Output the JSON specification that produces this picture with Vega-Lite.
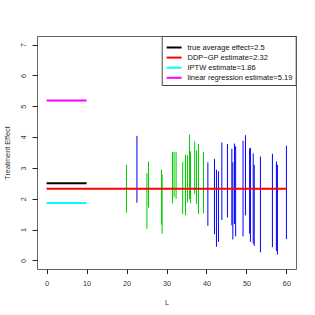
{
  "$schema": "https://vega.github.io/schema/vega-lite/v6.json",
  "width": 259,
  "height": 233,
  "autosize": {"type": "none"},
  "padding": {"left": 37, "top": 36, "right": 19, "bottom": 46},
  "background": "white",
  "config": {
    "view": {"stroke": "#666", "strokeWidth": 1},
    "font": "Liberation Sans",
    "axis": {"ticks": true, "tickWidth": 1, "tickOpacity": 1, "labelOverlap": false, "grid": false, "domain": false}
  },
  "datasets": {
    "segs": [
      {"L": 20.0, "lo": 1.55, "hi": 3.10, "grp": "g"},
      {"L": 25.1, "lo": 1.02, "hi": 2.83, "grp": "g"},
      {"L": 25.5, "lo": 1.71, "hi": 3.21, "grp": "g"},
      {"L": 28.75, "lo": 1.16, "hi": 2.94, "grp": "g"},
      {"L": 28.9, "lo": 0.86, "hi": 2.78, "grp": "g"},
      {"L": 31.5, "lo": 1.85, "hi": 3.52, "grp": "g"},
      {"L": 31.9, "lo": 2.05, "hi": 3.52, "grp": "g"},
      {"L": 32.4, "lo": 1.99, "hi": 3.52, "grp": "g"},
      {"L": 34.05, "lo": 1.50, "hi": 3.19, "grp": "g"},
      {"L": 34.75, "lo": 1.47, "hi": 3.43, "grp": "g"},
      {"L": 35.25, "lo": 1.88, "hi": 3.40, "grp": "g"},
      {"L": 35.75, "lo": 1.99, "hi": 4.08, "grp": "g"},
      {"L": 36.0, "lo": 1.85, "hi": 3.54, "grp": "g"},
      {"L": 37.05, "lo": 2.16, "hi": 3.86, "grp": "g"},
      {"L": 37.5, "lo": 1.83, "hi": 3.56, "grp": "g"},
      {"L": 38.0, "lo": 1.50, "hi": 3.78, "grp": "g"},
      {"L": 39.25, "lo": 1.53, "hi": 3.52, "grp": "g"},
      {"L": 22.6, "lo": 1.87, "hi": 4.04, "grp": "b"},
      {"L": 40.35, "lo": 1.12, "hi": 3.18, "grp": "b"},
      {"L": 42.0, "lo": 0.85, "hi": 3.29, "grp": "b"},
      {"L": 42.5, "lo": 0.44, "hi": 2.94, "grp": "b"},
      {"L": 43.0, "lo": 0.60, "hi": 2.89, "grp": "b"},
      {"L": 43.85, "lo": 1.31, "hi": 3.83, "grp": "b"},
      {"L": 45.25, "lo": 1.39, "hi": 3.78, "grp": "b"},
      {"L": 46.35, "lo": 1.14, "hi": 3.62, "grp": "b"},
      {"L": 46.6, "lo": 0.68, "hi": 3.18, "grp": "b"},
      {"L": 47.0, "lo": 1.18, "hi": 3.79, "grp": "b"},
      {"L": 47.3, "lo": 0.78, "hi": 3.70, "grp": "b"},
      {"L": 49.15, "lo": 0.78, "hi": 3.88, "grp": "b"},
      {"L": 49.75, "lo": 1.46, "hi": 4.06, "grp": "b"},
      {"L": 50.8, "lo": 0.87, "hi": 3.63, "grp": "b"},
      {"L": 51.0, "lo": 0.60, "hi": 3.65, "grp": "b"},
      {"L": 51.7, "lo": 0.54, "hi": 3.47, "grp": "b"},
      {"L": 51.95, "lo": 0.47, "hi": 3.10, "grp": "b"},
      {"L": 53.5, "lo": 0.26, "hi": 3.37, "grp": "b"},
      {"L": 56.5, "lo": 0.43, "hi": 3.46, "grp": "b"},
      {"L": 57.5, "lo": 0.31, "hi": 3.21, "grp": "b"},
      {"L": 57.75, "lo": 0.19, "hi": 3.10, "grp": "b"},
      {"L": 60.0, "lo": 0.69, "hi": 3.72, "grp": "b"}
    ],
    "est": [
      {"series": "true average effect=2.5", "x0": 0, "x1": 10, "v": 2.5},
      {"series": "DDP−GP estimate=2.32", "x0": 0, "x1": 60, "v": 2.32},
      {"series": "IPTW estimate=1.86", "x0": 0, "x1": 10, "v": 1.86},
      {"series": "linear regression estimate=5.19", "x0": 0, "x1": 10, "v": 5.19}
    ]
  },
  "encoding": {
    "x": {
      "type": "quantitative", "title": "L",
      "scale": {"domain": [-2.4, 62.4], "nice": false, "zero": false},
      "axis": {
        "values": [0, 10, 20, 30, 40, 50, 60],
        "tickSize": 4.5, "tickColor": "#222", "labelPadding": 12.4,
        "labelBaseline": "alphabetic", "labelFontSize": 7.3, "labelColor": "#333",
        "labelFlush": false,
        "titleFontSize": 7.3, "titleFontWeight": "normal", "titleColor": "#333",
        "titleY": 35, "titleBaseline": "alphabetic"
      }
    },
    "y": {
      "type": "quantitative", "title": "Treatment Effect",
      "scale": {"domain": [-0.28, 7.28], "nice": false, "zero": false},
      "axis": {
        "values": [0, 1, 2, 3, 4, 5, 6, 7],
        "tickSize": 5, "tickColor": "#222", "labelPadding": 6.3,
        "labelAngle": 270, "labelAlign": "center", "labelBaseline": "alphabetic",
        "labelFontSize": 7.3, "labelColor": "#333", "labelFlush": false,
        "titleFontSize": 7.3, "titleFontWeight": "normal", "titleColor": "#333",
        "titleX": -27.7, "titleY": 116.5, "titleAngle": 270, "titleAlign": "center",
        "titleBaseline": "alphabetic"
      }
    }
  },
  "layer": [
    {
      "data": {"name": "segs"},
      "mark": {"type": "rule", "strokeWidth": 1},
      "encoding": {
        "x": {"field": "L", "type": "quantitative"},
        "y": {"field": "lo", "type": "quantitative"},
        "y2": {"field": "hi"},
        "stroke": {
          "field": "grp", "type": "nominal",
          "scale": {"domain": ["g", "b"], "range": ["#00cd00", "#0000ff"]},
          "legend": null
        }
      }
    },
    {
      "data": {"name": "est"},
      "mark": {"type": "rule", "strokeWidth": 2},
      "encoding": {
        "x": {"field": "x0", "type": "quantitative"},
        "x2": {"field": "x1"},
        "y": {"field": "v", "type": "quantitative"},
        "color": {
          "field": "series", "type": "nominal",
          "scale": {
            "domain": ["true average effect=2.5", "DDP−GP estimate=2.32", "IPTW estimate=1.86", "linear regression estimate=5.19"],
            "range": ["#000000", "#ff0000", "#00ffff", "#ff00ff"]
          },
          "legend": {
            "orient": "none", "legendX": 124.7, "legendY": 0,
            "title": " ", "titleFontSize": 3, "titlePadding": 1,
            "symbolType": "M-0.68,0H3.32", "symbolSize": 56, "symbolStrokeWidth": 2,
            "labelFontSize": 7.5, "labelColor": "#111", "labelLimit": 300,
            "strokeColor": "#444", "fillColor": "white", "padding": 2.5,
            "rowPadding": 1.1, "labelOffset": 13.3, "cornerRadius": 0
          }
        }
      }
    }
  ]
}
